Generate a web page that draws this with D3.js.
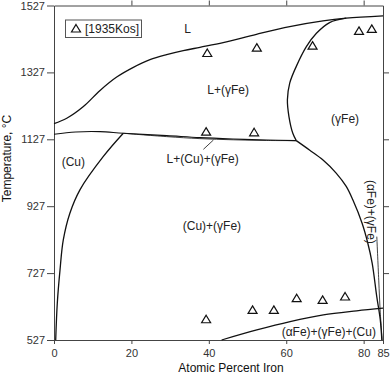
<!DOCTYPE html>
<html>
<head>
<meta charset="utf-8">
<script src="https://cdn.jsdelivr.net/npm/d3@7"></script>
<style>
    body { margin: 0; background: #fff; }
    #chart-area { width: 392px; height: 375px; }
    text { font-family: "Liberation Sans", Arial, sans-serif; }
</style>
</head>
<body>
<div id="chart-area"></div>
<script>
// phase boundaries as [atomic % Fe, temperature °C]
let liquidus = [[0, 1174], [3.3, 1190], [7.6, 1225], [11.9, 1273], [16.2, 1313], [20.5, 1342], [24.8, 1365], [29.1, 1380], [33.4, 1392], [37.7, 1402], [43.7, 1416], [52.3, 1441], [60.9, 1464], [69.5, 1481], [75.5, 1489], [85, 1496]]
let gammaSolidus = [[75.5, 1489], [71.2, 1476], [67.8, 1444], [65.2, 1404], [62.6, 1345], [60.9, 1295], [60.3, 1245], [60.7, 1195], [61.7, 1145], [62.6, 1123]]
let gammaSolvus = [[62.6, 1123], [66.0, 1095], [69.5, 1065], [72.9, 1026], [75.5, 986], [77.2, 946], [79.6, 876], [81.0, 820], [82.2, 757], [83.4, 656], [84.3, 587], [84.7, 527]]
let alphaSolvus = [[83.4, 836], [83.9, 706], [84.3, 608], [84.8, 527]]
let cuSolvus = [[17.9, 1145], [12.7, 1075], [6.7, 976], [4.1, 906], [2.4, 826], [1.55, 736], [0.85, 637], [0.44, 527]]
let monotecticUpper = [[0, 1142], [5.6, 1149], [11.9, 1150], [17.9, 1145], [29.1, 1138], [37.7, 1132], [46.3, 1128], [54.9, 1125], [62.6, 1123]]
let monotecticLower = [[17.9, 1145], [29.1, 1135], [37.7, 1129], [46.3, 1125.5], [54.9, 1123.5], [62.6, 1123]]
let eutectoid = [[43.3, 527], [52.4, 557], [61.0, 582], [69.6, 602], [78.2, 614], [85, 622]]
let leader = [[38.6, 1097], [41.2, 1125]]

// [1935Kos] measurements
let kosFe = [39.6, 52.4, 66.8, 78.8, 82.1, 39.3, 51.7, 39.3, 51.3, 56.8, 62.7, 69.4, 75.2]
let kosTemp = [1385, 1401, 1407, 1451, 1457, 1150, 1148, 589, 617, 617, 652, 647, 657]

let xTicks = [0, 20, 40, 60, 80, 85]
let yTicks = [527, 727, 927, 1127, 1327, 1527]

let regionNames = ["L", "L+(γFe)", "(γFe)", "(Cu)", "L+(Cu)+(γFe)", "(Cu)+(γFe)", "(αFe)+(γFe)+(Cu)", "(αFe)+(γFe)"]
let regionFe = [34.5, 45.0, 75.2, 5.0, 38.4, 40.8, 71.0, 82.0]
let regionTemp = [1456, 1275, 1188, 1060, 1070, 868, 552, 910]
let regionRotate = [0, 0, 0, 0, 0, 0, 0, 90]

class PhaseDiagram {
    constructor(parentElement) {
        this.parentElement = parentElement
        this.initVis()
    }

    initVis() {
        let vis = this

        vis.margin = {top: 5.5, right: 9, bottom: 35, left: 54}
        vis.width = 392 - vis.margin.left - vis.margin.right
        vis.height = 375 - vis.margin.top - vis.margin.bottom

        vis.svg = d3.select("#" + vis.parentElement).append("svg")
            .attr("width", 392)
            .attr("height", 375)
            .append("g")
            .attr("transform", `translate(${vis.margin.left}, ${vis.margin.top})`)

        vis.x = d3.scaleLinear().domain([0, 85]).range([0, vis.width])
        vis.y = d3.scaleLinear().domain([527, 1527]).range([vis.height, 0])

        let axisStyle = g => {
            g.select(".domain").attr("stroke", "#444")
            g.selectAll(".tick line").attr("stroke", "#444")
            g.selectAll(".tick text").attr("fill", "#333").style("font-size", "11px")
                .style("font-family", "'Liberation Sans', Arial, sans-serif")
        }

        vis.svg.append("g").attr("class", "x-axis axis")
            .attr("transform", `translate(0, ${vis.height})`)
            .call(d3.axisBottom(vis.x).tickValues(xTicks).tickSize(4).tickSizeOuter(0).tickPadding(5).tickFormat(d3.format("d")))
            .call(axisStyle)
        vis.svg.append("g").attr("class", "y-axis axis")
            .call(d3.axisLeft(vis.y).tickValues(yTicks).tickSize(7).tickSizeOuter(0).tickPadding(2).tickFormat(d3.format("d")))
            .call(axisStyle)
        vis.svg.append("g").attr("class", "x-axis-top axis")
            .call(d3.axisTop(vis.x).tickValues([20, 40, 60, 80]).tickSize(5).tickSizeOuter(0).tickFormat(""))
            .call(axisStyle)
        vis.svg.append("g").attr("class", "y-axis-right axis")
            .attr("transform", `translate(${vis.width}, 0)`)
            .call(d3.axisRight(vis.y).tickValues([727, 927, 1127, 1327]).tickSize(6).tickSizeOuter(0).tickFormat(""))
            .call(axisStyle)

        // axis titles
        vis.svg.append("text")
            .attr("transform", `translate(${-43}, 153) rotate(-90)`)
            .attr("text-anchor", "middle")
            .style("font-size", "12px")
            .attr("fill", "#111")
            .text("Temperature, °C")
        vis.svg.append("text")
            .attr("x", 177)
            .attr("y", 366)
            .attr("text-anchor", "middle")
            .style("font-size", "12px")
            .attr("fill", "#111")
            .text("Atomic Percent Iron")

        // legend
        vis.legend = vis.svg.append("g").attr("transform", "translate(11.5, 14.5)")
        vis.legend.append("rect")
            .attr("width", 76).attr("height", 17.5)
            .attr("fill", "none").attr("stroke", "#555").attr("stroke-width", 1)
        vis.legend.append("path")
            .attr("d", "M0,-4L4.5,3.5L-4.5,3.5Z")
            .attr("transform", "translate(10.5, 8.5)")
            .attr("fill", "#fff").attr("stroke", "#111").attr("stroke-width", 1.2)
        vis.legend.append("text")
            .attr("x", 19.5).attr("y", 12.8)
            .style("font-size", "12px")
            .attr("fill", "#222")
            .text("[1935Kos]")

        this.updateVis()
    }

    updateVis() {
        let vis = this

        let line = d3.line()
            .x(d => vis.x(d[0]))
            .y(d => vis.y(d[1]))
            .curve(d3.curveCatmullRom.alpha(0.5))

        let boundaries = [
            {data: liquidus, w: 1.3},
            {data: gammaSolidus, w: 1.3},
            {data: gammaSolvus, w: 1.3},
            {data: alphaSolvus, w: 0.8},
            {data: cuSolvus, w: 1.3},
            {data: monotecticUpper, w: 1.1},
            {data: monotecticLower, w: 0.8},
            {data: eutectoid, w: 1.3},
            {data: leader, w: 0.8}
        ]

        vis.svg.selectAll(".boundary").data(boundaries).enter().append("path")
            .attr("class", "boundary")
            .attr("d", d => line(d.data))
            .attr("fill", "none")
            .attr("stroke", "#111")
            .attr("stroke-width", d => d.w)

        let points = kosFe.map((d, i) => [d, kosTemp[i]])
        vis.svg.selectAll(".kos").data(points).enter().append("path")
            .attr("class", "kos")
            .attr("d", "M0,-4L4.5,3.5L-4.5,3.5Z")
            .attr("transform", d => `translate(${vis.x(d[0])}, ${vis.y(d[1])})`)
            .attr("fill", "#fff")
            .attr("stroke", "#111")
            .attr("stroke-width", 1.2)

        let labels = regionNames.map((d, i) => ({name: d, fe: regionFe[i], t: regionTemp[i], rot: regionRotate[i]}))
        vis.svg.selectAll(".region-label").data(labels).enter().append("text")
            .attr("class", "region-label")
            .attr("transform", d => `translate(${vis.x(d.fe)}, ${vis.y(d.t)}) rotate(${d.rot})`)
            .attr("text-anchor", "middle")
            .attr("dy", "0.35em")
            .style("font-size", "12px")
            .attr("fill", "#222")
            .text(d => d.name)
    }
}

let diagram = new PhaseDiagram("chart-area")
</script>
</body>
</html>
